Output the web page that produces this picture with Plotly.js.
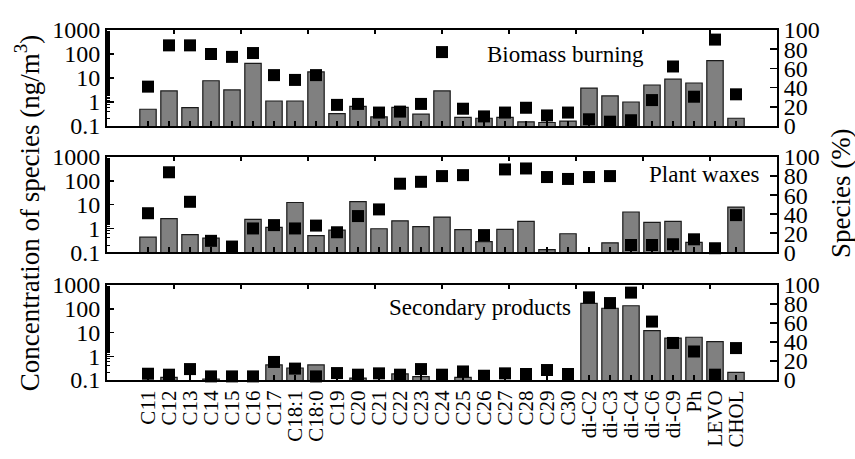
<!DOCTYPE html>
<html>
<head>
<meta charset="utf-8">
<script src="https://cdn.plot.ly/plotly-3.0.1.min.js"></script>
<style>html,body{margin:0;padding:0;background:#fff;}#chart{width:855px;height:459px;}</style>
</head>
<body>
<div id="chart"></div>
<script>
const categories = ['C11','C12','C13','C14','C15','C16','C17','C18:1','C18:0','C19','C20','C21','C22','C23','C24','C25','C26','C27','C28','C29','C30','di-C2','di-C3','di-C4','di-C6','di-C9','Ph','LEVO','CHOL'];

const biomassConc = [0.5,2.9,0.58,7.7,3.2,41,1.1,1.1,18,0.33,0.66,0.24,0.6,0.31,2.9,0.23,0.21,0.23,0.15,0.14,0.16,3.8,1.8,1.0,5.1,8.9,6.2,53,0.21];
const biomassPct  = [41,84,84,75,72,76,53,48,53,22,23,14,15,23,77,18,10,14,19,11,14,7,4.5,6,27,62,30.5,90,33];

const plantConc = [0.43,2.6,0.55,0.39,null,2.4,1.1,12.3,0.5,0.85,13.5,0.97,2.1,1.2,3.0,0.89,0.28,0.91,2.0,0.13,0.6,null,0.25,4.9,1.8,2.0,0.26,null,7.9];
const plantPct  = [41,84,53,12,6,25,28.5,25,28,21,38,45,72,74,80,81,18,87,88,79,77,79,80,7.6,7.6,8.4,13.6,4.2,39];

const secondaryConc = [null,0.13,null,0.11,null,null,0.43,0.32,0.43,null,0.12,null,0.18,0.14,null,0.13,null,null,null,null,null,170,105,134,12,5.8,6.3,4.1,0.21];
const secondaryPct  = [6.6,5.6,11.5,3.8,3.8,3.8,19,12,3.8,7.3,5.6,7,5.6,11.5,5.6,9,4.5,7,6.3,10.5,6.3,87,81,92,61.5,39,30,5.6,33.6];

const panelNames = ['Biomass burning','Plant waxes','Secondary products'];
const leftTickVals = [0.1,1,10,100,1000];
const leftTickText = ['0.1','1','10','100','1000'];

const FONT = '"Liberation Serif", "Times New Roman", Times, serif';
const barStyle = {color:'#808080', line:{color:'#1a1a1a', width:1.2}};
const sqStyle = {symbol:'square', size:12, color:'#000'};

function panelTraces(conc, pct, xa, yl, yr){
  return [
    {type:'bar', x:categories, y:conc, xaxis:xa, yaxis:yl, marker:barStyle, showlegend:false, hoverinfo:'x+y'},
    {type:'scatter', mode:'markers', x:categories, y:pct, xaxis:xa, yaxis:yr, marker:sqStyle, showlegend:false, cliponaxis:false}
  ];
}

const data = [].concat(
  panelTraces(secondaryConc, secondaryPct, 'x', 'y', 'y2'),
  panelTraces(plantConc, plantPct, 'x2', 'y3', 'y4'),
  panelTraces(biomassConc, biomassPct, 'x3', 'y5', 'y6'),
  [
    {type:'scatter', x:[null], y:[null], xaxis:'x4', yaxis:'y', showlegend:false, hoverinfo:'skip'},
    {type:'scatter', x:[null], y:[null], xaxis:'x5', yaxis:'y3', showlegend:false, hoverinfo:'skip'},
    {type:'scatter', x:[null], y:[null], xaxis:'x6', yaxis:'y5', showlegend:false, hoverinfo:'skip'}
  ]
);

const tickFont = {family:FONT, size:24, color:'#000'};

function catAxis(anchor, showLabels){
  return {anchor:anchor, domain:[0,1], type:'category', categoryorder:'array', categoryarray:categories,
    tickmode:'array', tickvals:categories, ticktext:categories,
    showline:true, linecolor:'#000', linewidth:2, mirror:true,
    ticks:'inside', ticklen:5, tickwidth:1.5, tickcolor:'#000',
    showticklabels:showLabels, tickangle:-90, tickfont:{family:FONT, size:21, color:'#000'},
    showgrid:false, zeroline:false, fixedrange:true};
}
function topAxis(overlay, anchor){
  return {overlaying:overlay, anchor:anchor, side:'top', range:[0,10], dtick:1, tick0:0,
    ticks:'inside', ticklen:4, tickwidth:1.5, tickcolor:'#000', showticklabels:false,
    showline:false, showgrid:false, zeroline:false, fixedrange:true};
}
function logAxis(anchor, domain){
  return {anchor:anchor, domain:domain, type:'log', range:[-1,3],
    tickvals:leftTickVals, ticktext:leftTickText, tickfont:tickFont,
    ticks:'inside', ticklen:7, tickwidth:1.5, tickcolor:'#000',
    minor:{ticks:'inside', ticklen:3, tickwidth:1, tickcolor:'#000', showgrid:false},
    showline:true, linecolor:'#000', linewidth:2, showgrid:false, zeroline:false, fixedrange:true};
}
function pctAxis(anchor, overlay){
  return {anchor:anchor, overlaying:overlay, side:'right', range:[0,100], dtick:20, tick0:0,
    tickfont:tickFont, ticks:'inside', ticklen:7, tickwidth:1.5, tickcolor:'#000',
    showline:true, linecolor:'#000', linewidth:2, showgrid:false, zeroline:false, fixedrange:true};
}

const d3 = [0, 0.2714], d2 = [0.365, 0.637], d1 = [0.7257, 1.0];

const layout = {
  width:855, height:459,
  margin:{l:107, r:78, t:30, b:79},
  paper_bgcolor:'#fff', plot_bgcolor:'rgba(0,0,0,0)',
  bargap:0.22,
  font:{family:FONT, color:'#000'},
  xaxis: catAxis('y', true),
  xaxis2: catAxis('y3', false),
  xaxis3: catAxis('y5', false),
  xaxis4: topAxis('x','y'),
  xaxis5: topAxis('x2','y3'),
  xaxis6: topAxis('x3','y5'),
  yaxis: logAxis('x', d3),
  yaxis2: pctAxis('x','y'),
  yaxis3: logAxis('x2', d2),
  yaxis4: pctAxis('x2','y3'),
  yaxis5: logAxis('x3', d1),
  yaxis6: pctAxis('x3','y5'),
  annotations:[
    {text:panelNames[0], xref:'paper', yref:'paper', x:0.684, y:0.929, xanchor:'center', yanchor:'middle', showarrow:false, font:{family:FONT, size:23, color:'#000'}},
    {text:panelNames[1], xref:'paper', yref:'paper', x:0.978, y:0.586, xanchor:'right', yanchor:'middle', showarrow:false, font:{family:FONT, size:23, color:'#000'}},
    {text:panelNames[2], xref:'paper', yref:'paper', x:0.557, y:0.206, xanchor:'center', yanchor:'middle', showarrow:false, font:{family:FONT, size:23, color:'#000'}},
    {text:'Concentration of species (ng/m<sup>3</sup>)', xref:'paper', yref:'paper', x:-0.119, y:0.477, xanchor:'center', yanchor:'middle', textangle:-90, showarrow:false, font:{family:FONT, size:27, color:'#000'}},
    {text:'Species (%)', xref:'paper', yref:'paper', x:1.0955, y:0.534, xanchor:'center', yanchor:'middle', textangle:-90, showarrow:false, font:{family:FONT, size:27, color:'#000'}}
  ]
};

Plotly.newPlot('chart', data, layout, {displayModeBar:false, staticPlot:true});
</script>
</body>
</html>
